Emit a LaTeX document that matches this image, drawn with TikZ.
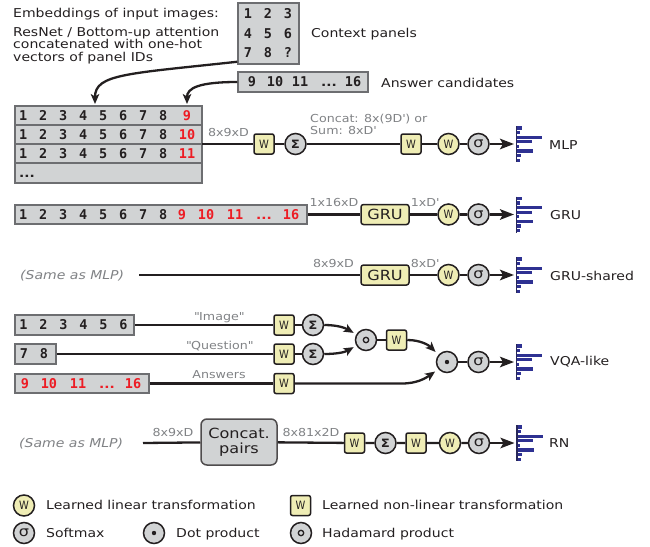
\documentclass[tikz,border=0pt]{standalone}
\usepackage{fontspec}
\setmainfont{DejaVu Sans}[FakeStretch=1.15]
\newfontfamily\digfont{DejaVu Sans Mono}
\newfontfamily\wfont{DejaVu Sans}[FakeStretch=0.86]
\usetikzlibrary{arrows.meta,calc}

\definecolor{ink}{HTML}{231F20}
\definecolor{panelfill}{HTML}{D1D3D4}
\definecolor{paneledge}{HTML}{6D6E71}
\definecolor{learnfill}{HTML}{EFEDB5}
\definecolor{answerred}{HTML}{ED1C24}
\definecolor{scoreblue}{HTML}{2E3192}
\definecolor{notegray}{HTML}{808285}

\tikzset{
  panel/.style={draw=paneledge, fill=panelfill, line width=1.5pt, inner sep=0pt},
  dig/.style={font=\digfont\bfseries\fontsize{13.5}{14}\selectfont, text=ink, inner sep=0pt, text height=9.8pt, text depth=0pt},
  ans/.style={dig, text=answerred},
  lab/.style={font=\fontsize{12.2}{14}\selectfont, text=ink, inner sep=0pt, text height=8.9pt, text depth=0pt},
  note/.style={font=\fontsize{11}{13}\selectfont, text=notegray, inner sep=0pt, text height=8pt, text depth=0pt},
  same/.style={lab, text=notegray, font=\fontsize{12.2}{14}\selectfont\itshape},
  wsq/.style={draw=ink, fill=learnfill, line width=1.5pt, rounded corners=2pt, minimum width=20pt, minimum height=20pt, inner sep=0pt, font=\wfont\fontsize{11.5}{11.5}\selectfont, text=ink},
  wcirc/.style={circle, draw=ink, fill=learnfill, line width=1.5pt, minimum size=21pt, inner sep=0pt, font=\wfont\fontsize{11.5}{11.5}\selectfont, text=ink},
  opc/.style={circle, draw=ink, fill=panelfill, line width=1.5pt, minimum size=21pt, inner sep=0pt, text=ink},
  hadamard/.style={opc, path picture={\draw[ink, line width=1.3pt] (path picture bounding box.center) circle (2.7pt);}},
  dotprod/.style={opc, path picture={\fill[ink] (path picture bounding box.center) circle (2.2pt);}},
  gru/.style={draw=ink, fill=learnfill, line width=1.5pt, rounded corners=2.5pt, minimum width=48pt, minimum height=20pt, inner sep=0pt, font=\fontsize{14}{14}\selectfont, text=ink},
  pairbox/.style={draw=ink!80, fill=panelfill, line width=1.5pt, rounded corners=6pt, minimum width=76pt, minimum height=46pt, inner sep=0pt, align=center, font=\fontsize{14}{15}\selectfont, text=ink},
  wire/.style={draw=ink, line width=2.3pt},
  toscore/.style={wire, -{Stealth[length=14pt,width=10.5pt,inset=3pt]}, shorten >=2.5pt},
  feed/.style={wire, -{Stealth[length=10pt,width=8.5pt,inset=2.5pt]}},
  hist/.pic={
    \draw[line width=1.5pt, draw=ink!50!scoreblue] (0,-18) -- (0,18);
    \foreach \yy/\ll in {-16.1/4.5,-11.5/3,-6.9/25,-2.3/15,2.3/2,6.9/16,11.5/4,16.1/3}
      \fill[scoreblue] (0.7,\yy-1.6) rectangle ++(\ll,3.2);
  },
}
\newcommand\sig{{\fontsize{14}{14}\selectfont σ}}
\newcommand\Sig{{\bfseries\fontsize{11.5}{11.5}\selectfont Σ}}
\newcommand\morecands{{\rmfamily\bfseries\fontsize{12}{12}\selectfont ...}}

\begin{document}
\begin{tikzpicture}[x=1pt,y=-1pt]
\useasboundingbox (0,0) rectangle (650,546);

% ---------- inputs ----------
\node[lab, anchor=west] (cap1) at (13,13) {Embeddings of input images:};
\node[lab, anchor=west] (cap2) at (13,32) {ResNet / Bottom-up attention};
\node[lab, anchor=west] (cap3) at (13,44.5) {concatenated with one-hot};
\node[lab, anchor=west] (cap4) at (13,57) {vectors of panel IDs};

\node[panel, minimum width=61pt, minimum height=61pt] (ctx) at (268.5,33.5) {};
\foreach \x/\y/\lbl [count=\i] in {248/14/1,268/14/2,288/14/3,248/33.5/4,268/33.5/5,288/33.5/6,248/53/7,268/53/8,288/53/?}
  \node[dig] (ctx-\i) at (\x,\y) {\lbl};
\node[lab, anchor=west] (ctxlab) at (311,33) {Context panels};

\node[panel, minimum width=130pt, minimum height=20pt] (cand) at (303,82) {};
\foreach \x/\lbl [count=\i] in {252/9,275/10,300/11,329/\morecands,353/16}
  \node[dig] (cand-\i) at (\x,82) {\lbl};
\node[lab, anchor=west] (candlab) at (381,83) {Answer candidates};

\coordinate (in1) at (95,104);
\coordinate (in2) at (187,104);
\draw[feed] ($(ctx.south west)+(0,-3)$) .. controls +(-110,12) and +(0,-30) .. (in1);
\draw[feed] (cand.west) .. controls +(-38,0) and +(0,-16) .. (in2);

% ---------- MLP ----------
\foreach \yy/\h [count=\r] in {115.5/19,134.5/19,153.5/19,173/20}
  \node[panel, minimum width=187pt, minimum height=\h pt] (mrow-\r) at (108.5,\yy) {};
\foreach \yy/\aa [count=\r] in {115.5/9,134.5/10,153.5/11} {
  \foreach \lbl [count=\i] in {1,2,3,4,5,6,7,8}
    \node[dig] (m\r-\i) at (3.3+20*\i,\yy) {\lbl};
  \node[ans] (m\r-a) at (187,\yy) {\aa};
}
\node[dig] (mdots) at (27,172.5) {\morecands};
\coordinate (mout) at (202,144);

\node[wsq] (mw1) at (264,144) {W};
\node[opc] (ms1) at (295.5,144) {\Sig};
\node[wsq] (mw2) at (411,144) {W};
\node[wcirc] (mw3) at (448.5,144) {W};
\node[opc] (msg) at (478.5,144) {\sig};
\coordinate (mh) at (516.5,144);
\pic at (mh) {hist};
\node[lab, anchor=west] (mlab) at (549,145) {MLP};
\draw[wire] (mout) -- (mw1) -- (ms1) -- (mw2) -- (mw3) -- (msg);
\draw[toscore] (msg) -- (mh);
\node[note] (mdim) at (228.5,132) {8x9xD};
\node[note, anchor=west] (mcat1) at (310,118) {Concat: 8x(9D\textquotesingle) or};
\node[note, anchor=west] (mcat2) at (310,130) {Sum: 8xD\textquotesingle};

% ---------- GRU ----------
\node[panel, minimum width=292pt, minimum height=19pt] (gseq) at (161,214.5) {};
\foreach \lbl [count=\i] in {1,2,3,4,5,6,7,8}
  \node[dig] (g-\i) at (3.3+20*\i,214.5) {\lbl};
\foreach \x/\lbl [count=\i] in {182/9,206/10,235/11,264/\morecands,291/16}
  \node[ans] (ga-\i) at (\x,214.5) {\lbl};
\node[gru] (g1) at (385,214.5) {GRU};
\node[wcirc] (gw) at (448.5,214.5) {W};
\node[opc] (gsg) at (478.5,214.5) {\sig};
\coordinate (gh) at (516.5,214.5);
\pic at (gh) {hist};
\node[lab, anchor=west] (glab) at (550,215) {GRU};
\draw[wire] (gseq) -- (g1) -- (gw) -- (gsg);
\draw[toscore] (gsg) -- (gh);
\node[note] (gdim1) at (334,202) {1x16xD};
\node[note] (gdim2) at (425,202) {1xD\textquotesingle};

% ---------- GRU-shared ----------
\node[same, anchor=west] (gsame) at (20,275) {(Same as MLP)};
\coordinate (gs0) at (139,275);
\node[gru] (g2) at (385,275) {GRU};
\node[wcirc] (g2w) at (448.5,275) {W};
\node[opc] (g2sg) at (478.5,275) {\sig};
\coordinate (g2h) at (516.5,275);
\pic at (g2h) {hist};
\node[lab, anchor=west] (g2lab) at (550,276) {GRU-shared};
\draw[wire] (gs0) -- (g2) -- (g2w) -- (g2sg);
\draw[toscore] (g2sg) -- (g2h);
\node[note] (g2dim1) at (333.5,263) {8x9xD};
\node[note] (g2dim2) at (425,263) {8xD\textquotesingle};

% ---------- VQA-like ----------
\node[panel, minimum width=119pt, minimum height=20pt] (vimg) at (74.5,325) {};
\foreach \lbl [count=\i] in {1,2,3,4,5,6}
  \node[dig] (vi-\i) at (3.5+20*\i,325) {\lbl};
\node[panel, minimum width=41pt, minimum height=20pt] (vq) at (35.5,354) {};
\node[dig] (vq-1) at (24,354) {7};
\node[dig] (vq-2) at (44,354) {8};
\node[panel, minimum width=134pt, minimum height=19pt] (vans) at (82,383.5) {};
\foreach \x/\lbl [count=\i] in {25/9,49/10,78/11,107/\morecands,133/16}
  \node[ans] (va-\i) at (\x,383.5) {\lbl};

\node[wsq] (vw1) at (284,325) {W};
\node[opc] (vs1) at (313,325) {\Sig};
\node[wsq] (vw2) at (284,354) {W};
\node[opc] (vs2) at (313,354) {\Sig};
\node[wsq] (vw3) at (284,383.5) {W};
\node[hadamard] (vhad) at (366,340) {};
\node[wsq] (vw4) at (396.5,340) {W};
\node[dotprod] (vdot) at (447,362) {};
\node[opc] (vsg) at (478.5,362) {\sig};
\coordinate (vh) at (516.5,362);
\pic at (vh) {hist};
\node[lab, anchor=west] (vlab) at (550,361) {VQA-like};

\draw[wire] (vimg) -- (vw1) -- (vs1);
\draw[wire] (vq) -- (vw2) -- (vs2);
\draw[wire] (vans) -- (vw3);
\draw[feed, shorten >=3pt] (vs1) to[out=0,in=150] (vhad.150);
\draw[feed, shorten >=3pt] (vs2) to[out=0,in=210] (vhad.210);
\draw[wire] (vhad) -- (vw4);
\draw[feed, shorten >=4pt] (vw4) to[out=0,in=135] (vdot.140);
\draw[feed, shorten >=4pt] (vw3) -- ++(118,0) to[out=0,in=215] (vdot.220);
\draw[wire] (vdot) -- (vsg);
\draw[toscore] (vsg) -- (vh);
\node[note] (vlimg) at (219,316) {\textquotedbl Image\textquotedbl};
\node[note] (vlq) at (219.5,345) {\textquotedbl Question\textquotedbl};
\node[note] (vla) at (219,374) {Answers};

% ---------- RN ----------
\node[same, anchor=west] (rsame) at (19,443) {(Same as MLP)};
\coordinate (r0) at (143,443);
\node[pairbox] (rpair) at (239,442) {Concat.\\pairs};
\node[wsq] (rw1) at (354.5,443) {W};
\node[opc] (rs) at (385.5,443) {\Sig};
\node[wsq] (rw2) at (416,443) {W};
\node[wcirc] (rw3) at (450,443) {W};
\node[opc] (rsg) at (479,443) {\sig};
\coordinate (rh) at (517,443);
\pic at (rh) {hist};
\node[lab, anchor=west] (rlab) at (549,443) {RN};
\draw[wire] (r0) -- (rpair) -- (rw1) -- (rs) -- (rw2) -- (rw3) -- (rsg);
\draw[toscore] (rsg) -- (rh);
\node[note] (rdim1) at (173,432) {8x9xD};
\node[note] (rdim2) at (311,432) {8x81x2D};

% ---------- legend ----------
\node[wcirc] (k1) at (24,505.5) {W};
\node[lab, anchor=west] (k1t) at (46,505) {Learned linear transformation};
\node[wsq] (k2) at (300.5,505.5) {W};
\node[lab, anchor=west] (k2t) at (322,505) {Learned non-linear transformation};
\node[opc] (k3) at (24,533) {\sig};
\node[lab, anchor=west] (k3t) at (46,533) {Softmax};
\node[dotprod] (k4) at (154,533) {};
\node[lab, anchor=west] (k4t) at (176,533) {Dot product};
\node[hadamard] (k5) at (301,533) {};
\node[lab, anchor=west] (k5t) at (322,533) {Hadamard product};
\end{tikzpicture}
\end{document}
